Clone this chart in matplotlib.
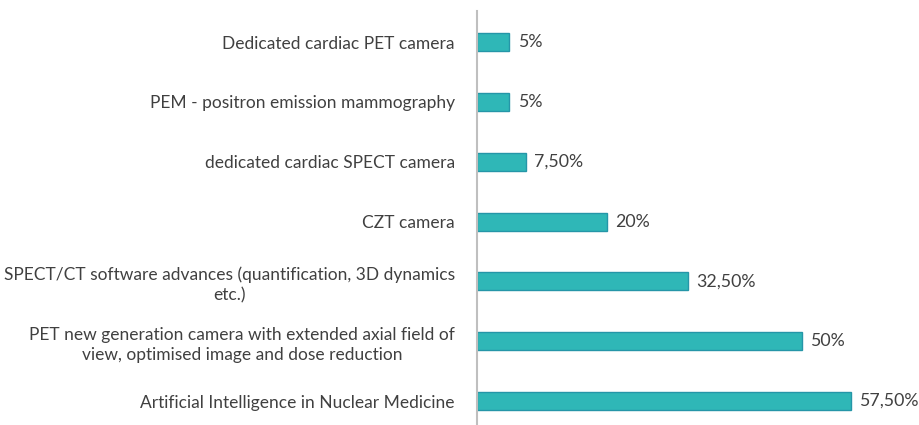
import matplotlib.pyplot as plt

# Datos
categorias = [
    'Artificial Intelligence in Nuclear Medicine',
    'PET new generation camera with extended axial field of\nview, optimised image and dose reduction',
    'SPECT/CT software advances (quantification, 3D dynamics\netc.)',
    'CZT camera',
    'dedicated cardiac SPECT camera',
    'PEM - positron emission mammography',
    'Dedicated cardiac PET camera',
]
valores = [57.5, 50, 32.5, 20, 7.5, 5, 5]
etiquetas = ['57,50%', '50%', '32,50%', '20%', '7,50%', '5%', '5%']

TEXTO = '#404040'

def main():
    plt.rcParams['font.family'] = ['Lato', 'DejaVu Sans']

    fig = plt.figure(figsize=(9.19, 4.25), dpi=100)
    ax = fig.add_axes([0.519, 0.0, 0.481, 0.974])

    y = list(range(len(categorias)))
    ax.barh(y, valores, height=0.3, color='#2FB7B7', edgecolor='#2596A8', linewidth=1)

    for yi, v, txt in zip(y, valores, etiquetas):
        ax.annotate(txt, xy=(v, yi), xytext=(6, 0), textcoords='offset points',
                    va='center', ha='left', fontsize=12.8, color=TEXTO)

    ax.set_xlim(0, 68)
    ax.set_ylim(-0.4, 6.52)
    ax.set_yticks(y)
    ax.set_yticklabels(categorias, fontsize=12.5, color=TEXTO,
                       multialignment='center', linespacing=1.3)
    ax.tick_params(axis='y', length=0, pad=16)
    ax.set_xticks([])

    for lado in ['top', 'right', 'bottom']:
        ax.spines[lado].set_visible(False)
    ax.spines['left'].set_color('#BFBFBF')
    ax.spines['left'].set_linewidth(1.5)

    fig.savefig('out.png', dpi=100)

if __name__ == "__main__":
    main()
